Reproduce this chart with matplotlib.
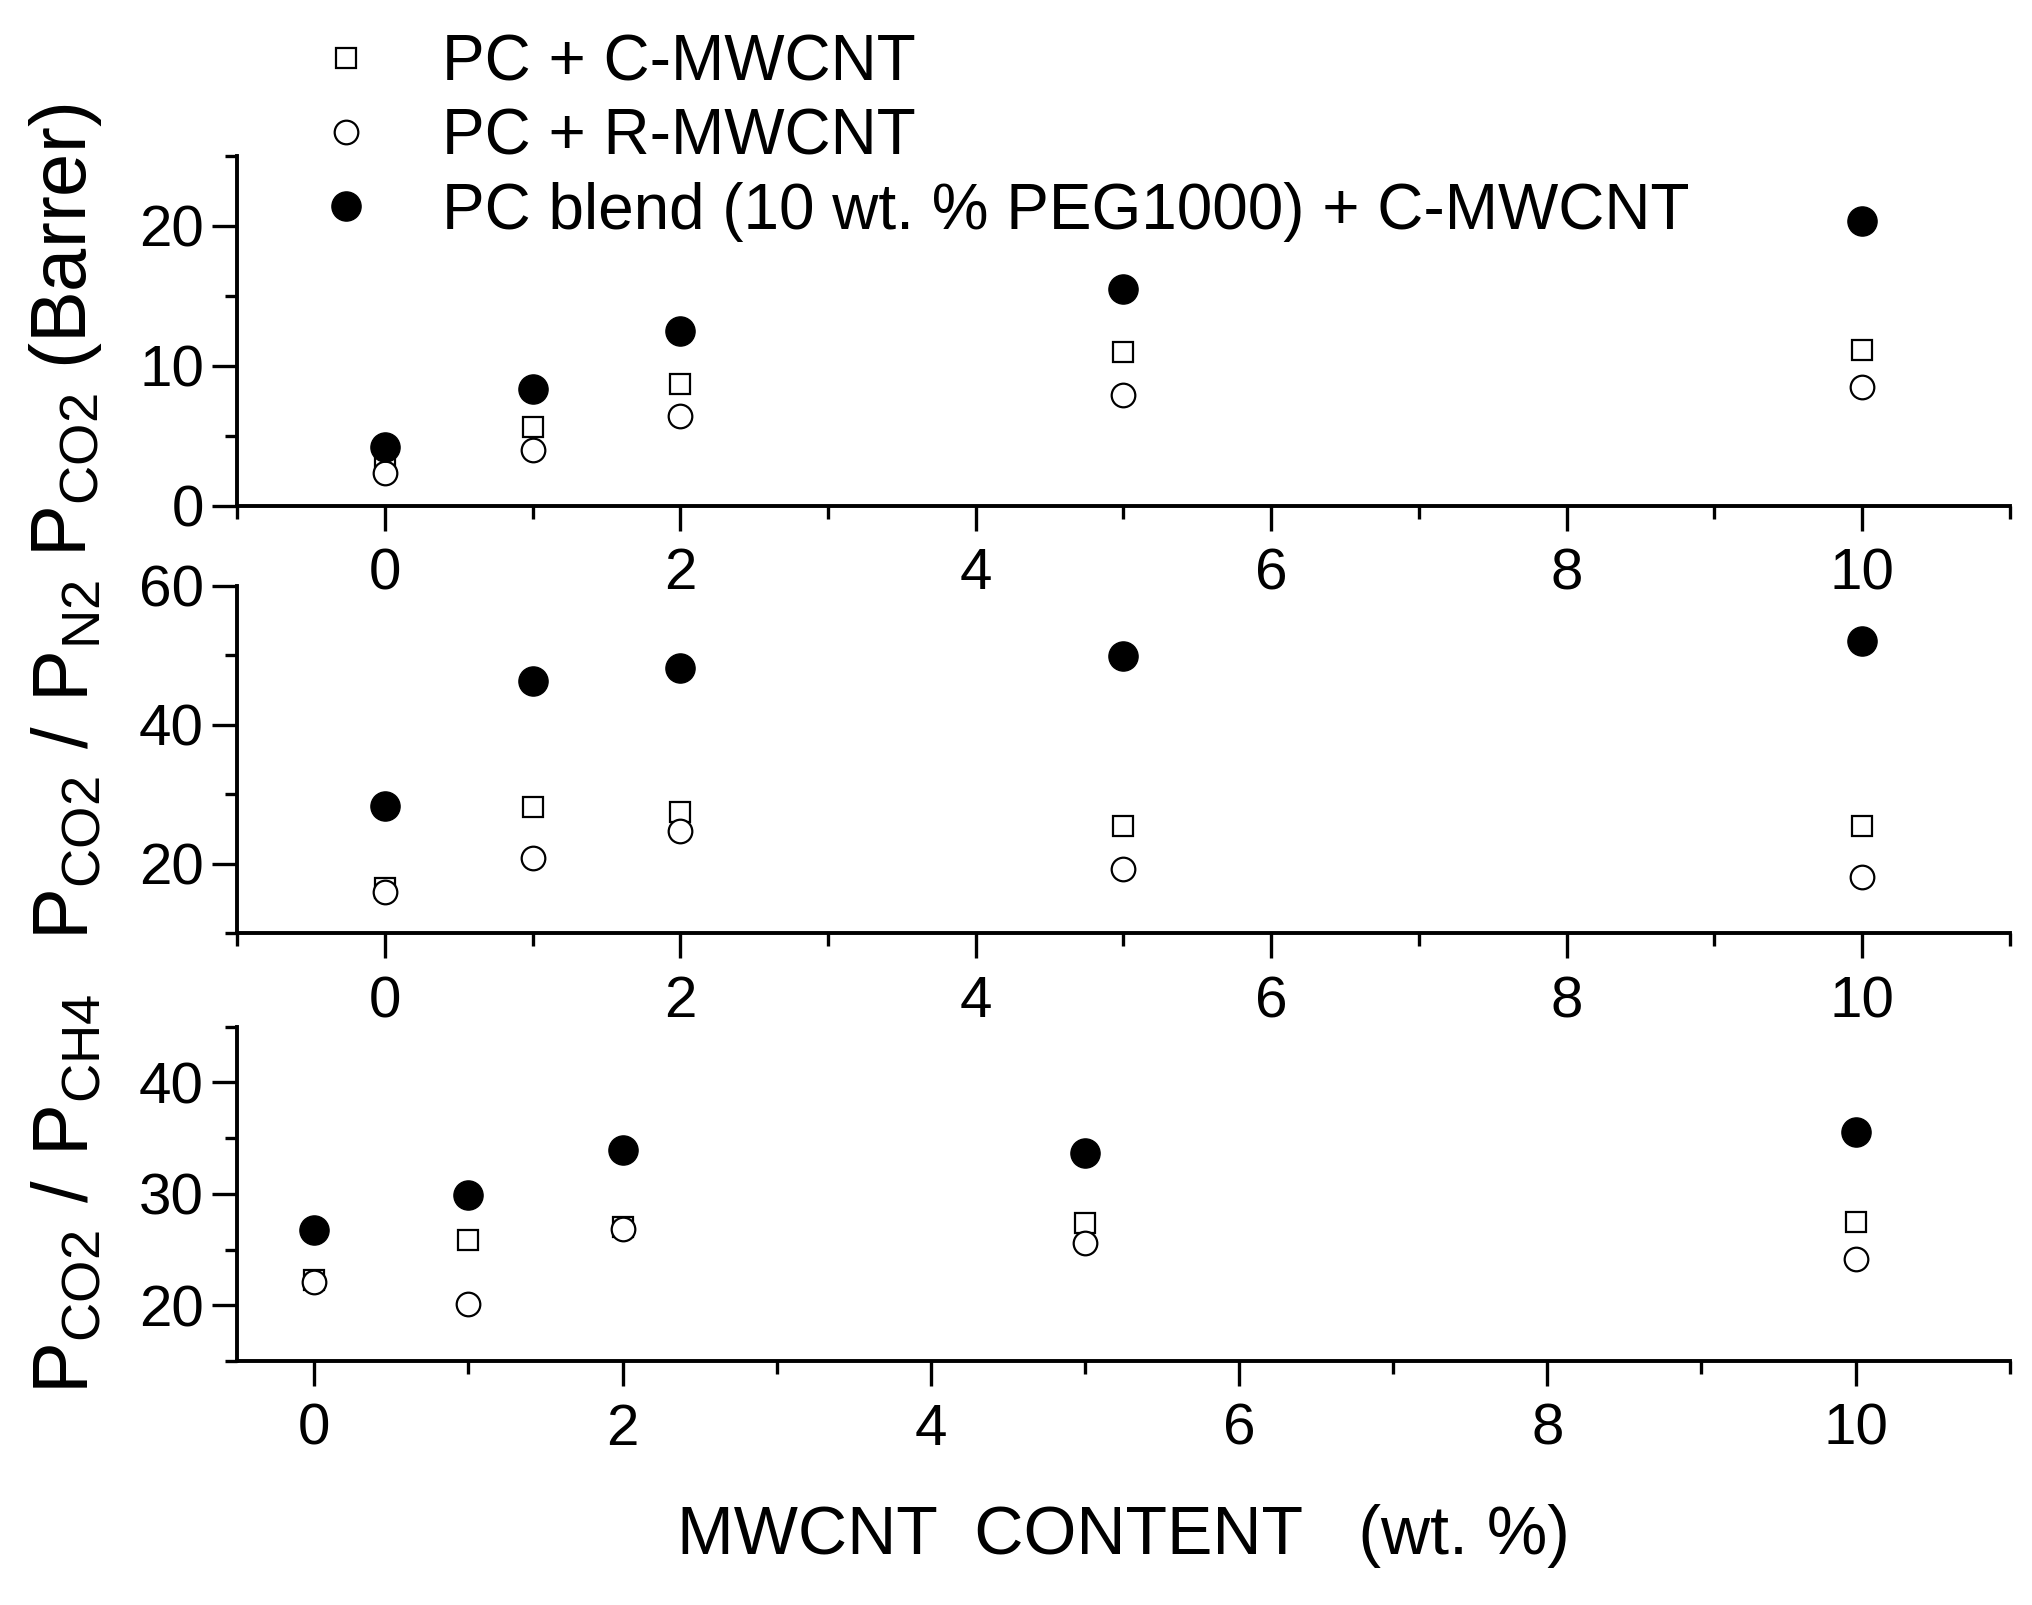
import numpy as np
import matplotlib.pyplot as plt
from matplotlib.ticker import MultipleLocator

plt.rcParams['font.family'] = ['Liberation Sans', 'DejaVu Sans']
plt.rcParams['mathtext.fontset'] = 'custom'
plt.rcParams['mathtext.rm'] = 'Liberation Sans'

# filler content (wt. %)
x = [0, 1, 2, 5, 10]

# CO2 permeability (Barrer)
perm_c = [3.0, 5.6, 8.7, 11.0, 11.1]
perm_r = [2.3, 4.0, 6.4, 7.9, 8.5]
perm_blend = [4.2, 8.3, 12.5, 15.5, 20.3]

# CO2/N2 selectivity
sel_n2_c = [16.5, 28.2, 27.5, 25.5, 25.5]
sel_n2_r = [16.0, 20.8, 24.8, 19.3, 18.1]
sel_n2_blend = [28.4, 46.4, 48.2, 49.9, 52.1]

# CO2/CH4 selectivity
sel_ch4_c = [22.3, 25.9, 27.0, 27.4, 27.5]
sel_ch4_r = [22.1, 20.1, 26.9, 25.6, 24.2]
sel_ch4_blend = [26.8, 29.9, 33.9, 33.7, 35.6]

labels = ['PC + C-MWCNT', 'PC + R-MWCNT',
          'PC blend (10 wt. % PEG1000) + C-MWCNT']

fig = plt.figure(figsize=(20.33, 16.05), dpi=100)

# panel boxes [left, bottom, width, height]
ax1 = fig.add_axes([0.1167, 0.685, 0.8718, 0.218])
ax2 = fig.add_axes([0.1167, 0.4184, 0.8718, 0.2165])
ax3 = fig.add_axes([0.1167, 0.1519, 0.8718, 0.2084])

panels = [
    (ax1, perm_c, perm_r, perm_blend, (0, 25), 10, (-1, 11),
     r'$\mathregular{P_{CO2}}$ (Barrer)'),
    (ax2, sel_n2_c, sel_n2_r, sel_n2_blend, (10, 60), 20, (-1, 11),
     r'$\mathregular{P_{CO2}\ /\ P_{N2}}$'),
    (ax3, sel_ch4_c, sel_ch4_r, sel_ch4_blend, (15, 45), 10, (-0.5, 11),
     r'$\mathregular{P_{CO2}\ /\ P_{CH4}}$'),
]

handles = []
for ax, yc, yr, yb, ylim, ystep, xlim, ylab in panels:
    ax.patch.set_visible(False)
    h1, = ax.plot(x, yc, ls='none', marker='s', ms=15, mfc='white',
                  mec='black', mew=1.6)
    h2, = ax.plot(x, yr, ls='none', marker='o', ms=17, mfc='white',
                  mec='black', mew=1.6)
    h3, = ax.plot(x, yb, ls='none', marker='o', ms=21, mfc='black',
                  mec='black')
    handles = [h1, h2, h3]

    ax.set_xlim(*xlim)
    ax.set_ylim(*ylim)
    ax.xaxis.set_major_locator(MultipleLocator(2))
    ax.xaxis.set_minor_locator(MultipleLocator(1))
    ax.yaxis.set_major_locator(MultipleLocator(ystep))
    ax.yaxis.set_minor_locator(MultipleLocator(ystep / 2))
    ax.spines['top'].set_visible(False)
    ax.spines['right'].set_visible(False)
    ax.spines['left'].set_linewidth(2.8)
    ax.spines['bottom'].set_linewidth(2.8)
    ax.tick_params(which='major', direction='out', length=18, width=2.4,
                   labelsize=42)
    ax.tick_params(which='minor', direction='out', length=9, width=2.4)
    ax.tick_params(axis='x', which='major', pad=12)
    ax.tick_params(axis='y', which='major', pad=6)
    ax.set_ylabel(ylab, fontsize=56)
    ax.yaxis.set_label_coords(-0.075, 0.5)

ax1.set_yticks([0, 10, 20])
ax2.set_yticks([20, 40, 60])
ax3.set_yticks([20, 30, 40])

ax3.set_xlabel('MWCNT  CONTENT   (wt. %)', fontsize=49, labelpad=34)

fig.legend(handles, labels, loc='upper left', bbox_to_anchor=(0.150, 0.995),
           frameon=False, fontsize=46, handletextpad=1.25, labelspacing=0.22,
           handlelength=0.5, borderaxespad=0)

fig.savefig('out.png', dpi=100)
